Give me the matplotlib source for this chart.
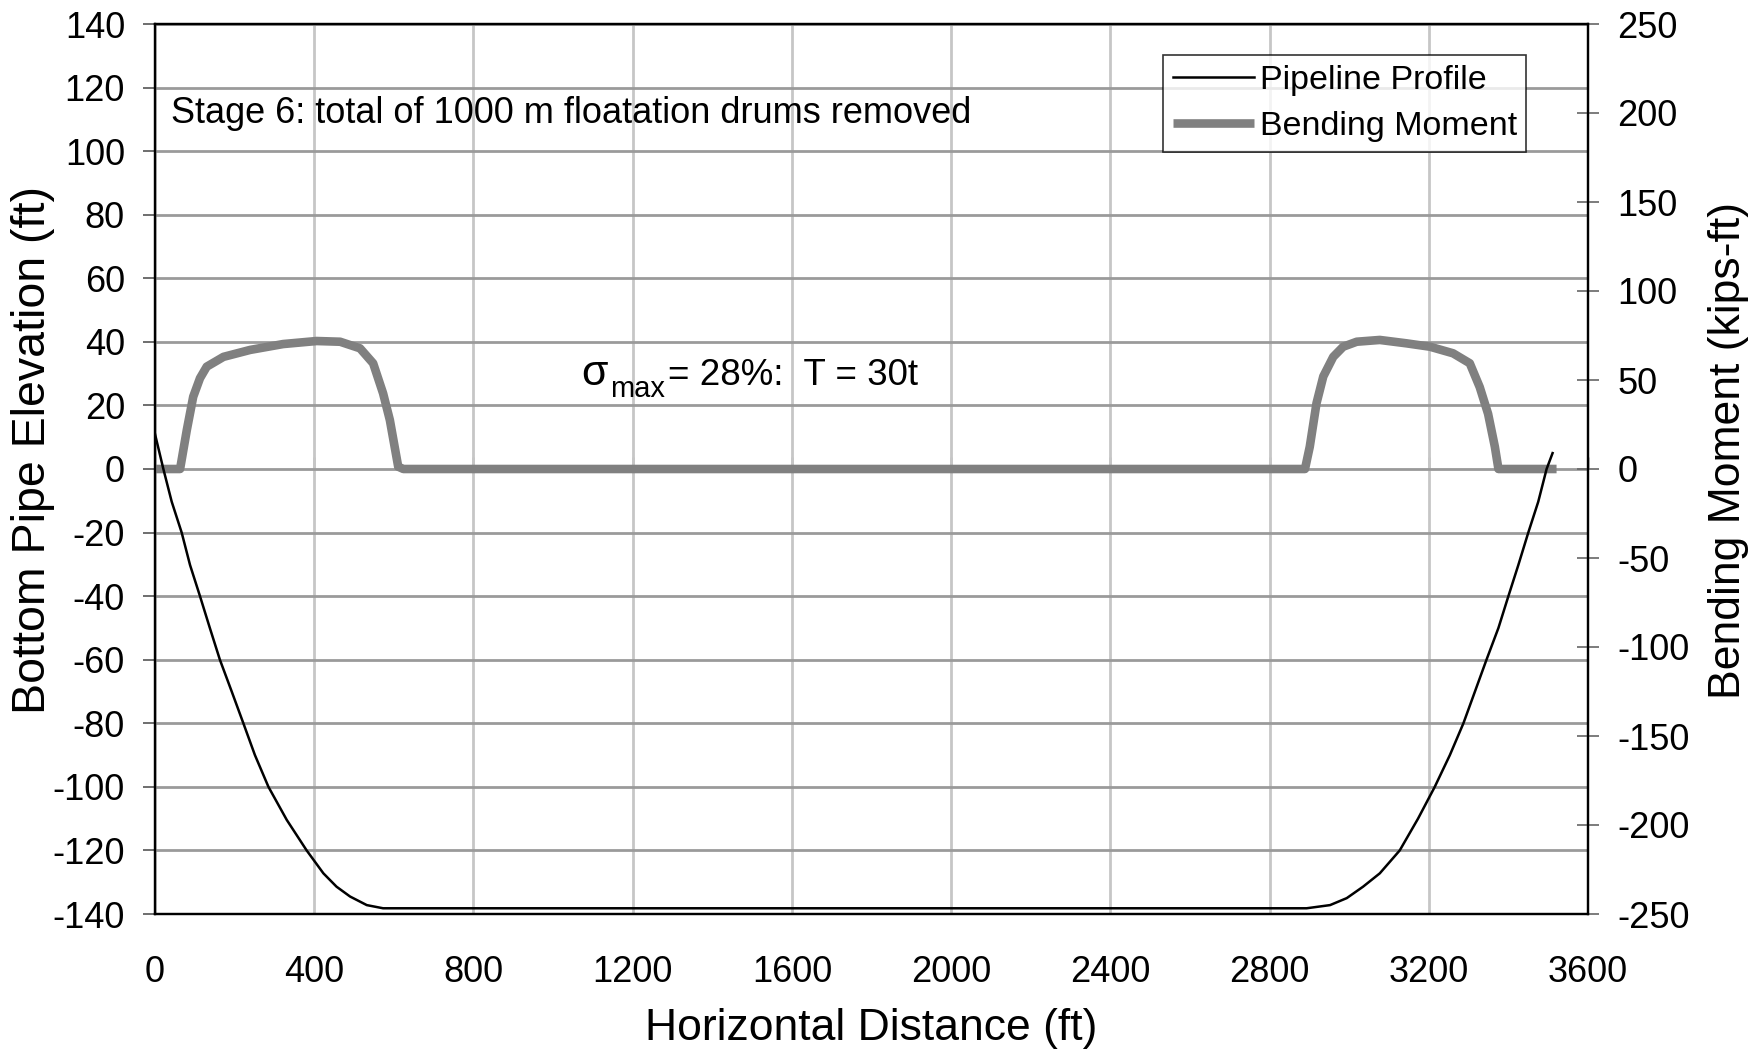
import matplotlib
matplotlib.use("Agg")
import matplotlib.pyplot as plt
from matplotlib.lines import Line2D

plt.rcParams['font.family'] = ['Liberation Sans', 'DejaVu Sans']

# ---- data ----
profile_x = [0, 21, 42, 67, 88, 113, 138, 163, 193, 222, 251, 285, 331, 381, 423, 456, 490, 532, 573, 600,
             2893, 2952, 2994, 3035, 3077, 3127, 3173, 3215, 3253, 3287, 3316, 3345, 3375, 3400,
             3425, 3450, 3475, 3496, 3511]
profile_y = [11, 0, -10.3, -20, -30.2, -40, -50.1, -60, -70.1, -80, -90, -100, -110.4, -120, -127.2,
             -131.4, -134.5, -137.2, -138.2, -138.2,
             -138.2, -137.2, -135, -131.4, -127.2, -120, -110, -100, -90, -80, -70, -60, -50, -40,
             -30.2, -20, -10.3, 0, 5]

moment_x = [0, 63, 80, 96, 113, 130, 172, 239, 322, 406, 465, 515, 548, 573, 590, 611, 624,
            2889, 2901, 2918, 2935, 2960, 2985, 3019, 3077, 3144, 3203, 3261, 3303, 3328,
            3349, 3366, 3375, 3521]
moment_y = [0, 0, 22, 40.6, 51, 57.5, 63, 66.9, 70.2, 71.9, 71.5, 67.8, 59.4, 42.5, 27.5, 1.3, 0,
            0, 12.5, 37, 52, 63, 68.7, 71.5, 72.5, 70.6, 68.7, 65, 59.4, 46,
            31, 12.5, 0, 0]

x_ticks = list(range(0, 3601, 400))
left_ticks = list(range(-140, 141, 20))
right_ticks = list(range(-250, 251, 50))

FS = 26
LFS = 32

W, H = 1764, 1051
L, R, T, B = 155, 1588, 24, 914

fig = plt.figure(figsize=(W/100, H/100), dpi=100)
ax = fig.add_axes([L/W, 1-B/H, (R-L)/W, (B-T)/H])
ax2 = ax.twinx()

ax.set_xlim(0, 3600)
ax.set_ylim(-140, 140)
ax2.set_ylim(-250, 250)

# grid
ax.set_yticks(left_ticks)
ax.set_xticks(x_ticks)
ax.yaxis.grid(True, color='#9a9a9a', linewidth=2)
ax.xaxis.grid(True, color='#c6c6c6', linewidth=2)
ax.set_axisbelow(True)

# axis line at y=0 with tick marks
sec = ax.secondary_xaxis(0.5)
sec.set_xticks(x_ticks)
sec.set_xticklabels([])
sec.tick_params(direction='out', length=8.6, width=1, color='black')
sec.spines['bottom'].set_color('#808080')
sec.spines['bottom'].set_linewidth(2)

# lines
ax2.plot(moment_x, moment_y, color='#808080', linewidth=6.2, solid_capstyle='butt',
         label='Bending Moment', zorder=2)
ax2.plot(profile_x, profile_y, color='black', linewidth=1.8, transform=ax.transData,
         label='Pipeline Profile', zorder=3)
ax2.set_ylim(-250, 250)

# spines
for s in ['left', 'right', 'top', 'bottom']:
    ax.spines[s].set_color('black')
    ax.spines[s].set_linewidth(1.6)
    ax2.spines[s].set_color('black')
    ax2.spines[s].set_linewidth(1.6)

ax.tick_params(axis='y', direction='out', length=8.6, width=1.2, color='#555555',
               labelsize=FS, pad=13)
ax.tick_params(axis='x', length=0, labelsize=FS, pad=29.5)
ax2.set_yticks(right_ticks)
ax2.tick_params(axis='y', direction='inout', length=16, width=1.2, color='#666666',
                labelsize=FS, pad=13)

ax.set_xticklabels([str(v) for v in x_ticks])
ax.set_yticklabels([str(v) for v in left_ticks])
ax2.set_yticklabels([str(v) for v in right_ticks])

ax.set_xlabel('Horizontal Distance (ft)', fontsize=LFS, va='center')
ax.xaxis.set_label_coords(0.5, -0.129)
ax.set_ylabel('Bottom Pipe Elevation (ft)', fontsize=33.5, va='center')
ax.yaxis.set_label_coords(-0.085, 0.521)
ax2.set_ylabel('Bending Moment (kips-ft)', fontsize=LFS, va='center', rotation=90)
ax2.yaxis.set_label_coords(1.098, 0.521)

ax.text(0.011, 0.8995, 'Stage 6: total of 1000 m floatation drums removed',
        transform=ax.transAxes, fontsize=FS, ha='left', va='center')

# sigma annotation: large sigma, subscript "max", then the rest
def axfrac(px, py):
    return (px - L) / (R - L), (B - py) / (B - T)

ax2.text(*axfrac(581, 385), 'σ', transform=ax.transAxes, fontsize=31,
         ha='left', va='baseline')
ax2.text(*axfrac(610, 397), 'max', transform=ax.transAxes, fontsize=21,
         ha='left', va='baseline')
ax2.text(*axfrac(668, 385), '= 28%:  T = 30t', transform=ax.transAxes, fontsize=26.5,
         ha='left', va='baseline')

handles = [Line2D([], [], color='black', linewidth=1.8),
           Line2D([], [], color='#808080', linewidth=6.2, solid_capstyle='butt')]
leg = ax2.legend(handles, ['Pipeline Profile', 'Bending Moment'],
                 loc='upper right', bbox_to_anchor=(0.957, 0.965),
                 fontsize=24.5, frameon=True, fancybox=False, shadow=False,
                 borderpad=0.28, handlelength=2.4, handletextpad=0.15,
                 labelspacing=0.46, borderaxespad=0)
leg.get_frame().set_edgecolor('black')
leg.get_frame().set_linewidth(1.2)

fig.savefig('out.png', dpi=100)
